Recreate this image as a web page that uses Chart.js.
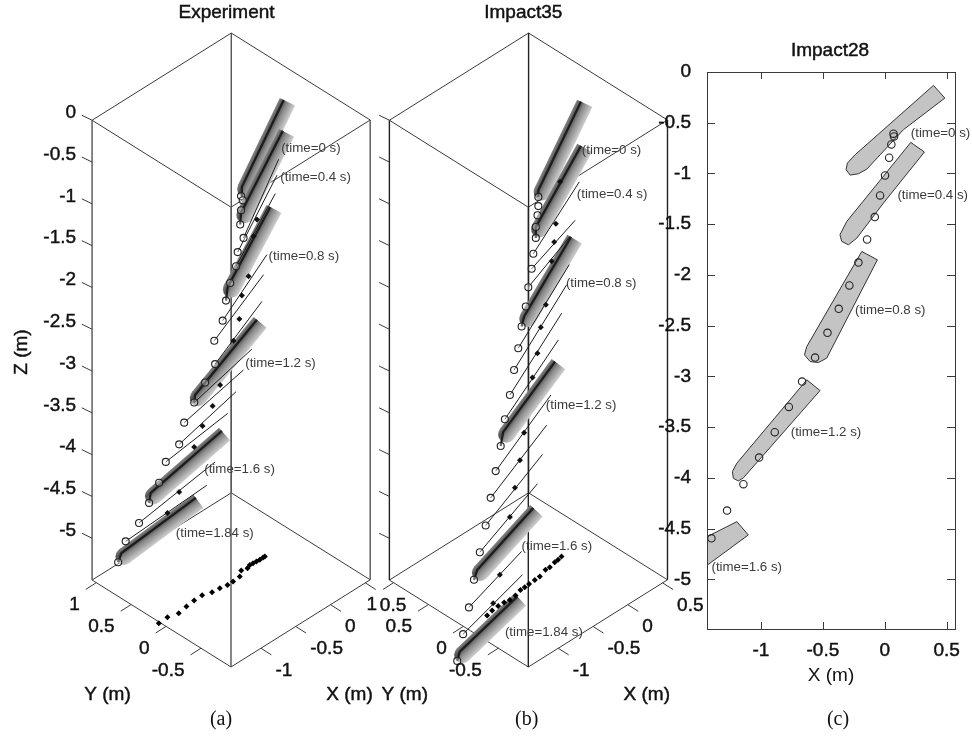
<!DOCTYPE html>
<html><head><meta charset="utf-8">
<script src="https://cdn.jsdelivr.net/npm/chart.js@4/dist/chart.umd.min.js"></script>
<style>html,body{margin:0;padding:0;background:#fff}
#w{position:relative;width:972px;height:737px;overflow:hidden}
canvas{position:absolute;left:0;top:0}</style></head>
<body><div id="w"><canvas id="ca" width="972" height="737"></canvas><canvas id="cb" width="972" height="737"></canvas><canvas id="cc" width="972" height="737"></canvas></div>
<script>
// ---------- axis limits and ticks ----------
const xLim3d=[-1.43,0.57], yLim3d=[-0.93,1.06], zLim3d=[-5.5,0];
const xTicks3d=[-1,-0.5,0,0.5], yTicks3d=[-0.5,0,0.5,1];
const zTicks=[0,-0.5,-1,-1.5,-2,-2.5,-3,-3.5,-4,-4.5,-5];
const xTicksC=[-1,-0.5,0,0.5];
const timeNames=['(time=0 s)','(time=0.4 s)','(time=0.8 s)','(time=1.2 s)','(time=1.6 s)','(time=1.84 s)'];

// ---------- (a) Experiment: values on the projection plane (m) ----------
const aBandLowU=[0.13,0.12,-0.04,-0.43,-0.96,-1.31];
const aBandLowV=[-0.80,-1.11,-2.00,-3.29,-4.46,-5.18];
const aBandTopU=[0.63,0.62,0.47,0.31,-0.11,-0.42];
const aBandTopV=[0.24,-0.13,-1.04,-2.39,-3.72,-4.52];
const aBandEnd=[0,3,8,13,18,21];
const aCircleU=[0.12,0.14,0.12,0.11,0.15,0.08,0.06,-0.01,-0.06,-0.10,-0.20,-0.19,-0.31,-0.44,-0.56,-0.62,-0.78,-0.86,-0.98,-1.10,-1.26,-1.35];
const aCircleV=[-0.91,-0.96,-1.08,-1.25,-1.41,-1.58,-1.75,-1.95,-2.16,-2.40,-2.64,-2.92,-3.14,-3.38,-3.62,-3.88,-4.09,-4.34,-4.58,-4.82,-5.04,-5.29];
const aRodBase=[4,5,6,9,10,11,13,14,15,16,19,20];
const aRodTipU=[0.57,0.55,0.53,0.43,0.39,0.37,0.25,0.15,0.06,-0.04,-0.19,-0.29];
const aRodTipV=[-0.47,-0.66,-0.88,-1.61,-1.85,-2.17,-2.74,-2.99,-3.25,-3.51,-4.09,-4.37];
const aDotU=[0.31,0.27,0.21,0.13,0.10,0.03,-0.13,-0.22,-0.34,-0.44,-0.62,-0.76];
const aDotV=[-1.19,-1.39,-1.87,-2.10,-2.38,-2.64,-3.17,-3.42,-3.66,-3.91,-4.45,-4.70];
const aTrackX=[-1.446,-1.315,-1.188,-1.057,-0.933,-0.814,-0.708,-0.606,-0.513,-0.435,-0.33,-0.25,-0.178,-0.124,-0.081,-0.038,0.006,0.056,0.08];
const aTrackY=[0.088,0.095,0.06,0.08,0.094,0.098,0.061,0.052,0.034,0.032,0.041,0.10,0.082,0.103,0.099,0.093,0.089,0.092,0.09];
const aTimeU=[0.60,0.59,0.45,0.17,-0.32,-0.66];
const aTimeV=[-0.34,-0.69,-1.63,-2.91,-4.18,-4.94];

// ---------- (b) Impact35 ----------
const bBandLowU=[0.12,0.09,-0.05,-0.30,-0.61,-0.82];
const bBandLowV=[-0.84,-1.28,-2.35,-3.73,-5.38,-6.36];
const bBandTopU=[0.63,0.63,0.51,0.32,0.06,-0.13];
const bBandTopV=[0.22,-0.31,-1.40,-2.89,-4.64,-5.70];
const bBandEnd=[0,4,9,14,19,22];
const bCircleU=[0.12,0.12,0.11,0.09,0.09,0.06,0.04,0,-0.03,-0.08,-0.12,-0.17,-0.22,-0.28,-0.33,-0.39,-0.45,-0.51,-0.58,-0.65,-0.71,-0.78,-0.85];
const bCircleV=[-0.92,-1.03,-1.14,-1.28,-1.41,-1.60,-1.78,-2.00,-2.23,-2.47,-2.73,-2.99,-3.29,-3.58,-3.90,-4.20,-4.52,-4.85,-5.17,-5.50,-5.83,-6.15,-6.47];
const bRodBase=[5,6,7,10,11,12,13,15,16,17,18,20,21];
const bRodTipU=[0.61,0.56,0.50,0.49,0.46,0.40,0.36,0.27,0.22,0.17,0.11,-0.08,-0.07];
const bRodTipV=[-0.74,-1.20,-1.39,-1.73,-1.97,-2.31,-2.63,-3.29,-3.65,-4.00,-4.35,-5.16,-5.44];
const bDotU=[0.38,0.33,0.31,0.28,0.21,0.15,0.11,0.05,-0.05,-0.10,-0.16,-0.22,-0.34,-0.42];
const bDotV=[-0.74,-1.24,-1.46,-1.69,-2.21,-2.48,-2.79,-3.08,-3.74,-4.07,-4.40,-4.75,-5.44,-5.78];
const bTrackX=[-1.136,-1.043,-0.946,-0.865,-0.793,-0.703,-0.602,-0.54,-0.471,-0.384,-0.31,-0.192,-0.13,-0.038,0.013,0.075];
const bTrackY=[-0.047,-0.026,-0.015,-0.02,-0.03,-0.022,0.008,0.008,0.015,0.02,0.022,0.058,0.058,0.079,0.082,0.095];
const bTimeU=[0.64,0.58,0.45,0.21,-0.08,-0.28];
const bTimeV=[-0.36,-0.89,-1.95,-3.41,-5.10,-6.13];

// ---------- (c) Impact28: X (m), Z (m) ----------
const cCircleX=[0.07,0.075,0.053,0.035,0.002,-0.038,-0.081,-0.143,-0.213,-0.286,-0.372,-0.463,-0.563,-0.668,-0.775,-0.889,-1.015,-1.142,-1.274,-1.4];
const cCircleZ=[-0.608,-0.635,-0.714,-0.845,-1.02,-1.217,-1.43,-1.651,-1.878,-2.104,-2.334,-2.571,-2.815,-3.051,-3.301,-3.55,-3.8,-4.063,-4.323,-4.596];
const cBody0X=[0.393,0.485,0.15,-0.145,-0.213,-0.28,-0.313,-0.302,-0.24,0.393];
const cBody0Z=[-0.132,-0.257,-0.569,-0.957,-1.003,-1.016,-0.963,-0.898,-0.816,-0.132];
const cBody1X=[0.21,0.32,-0.011,-0.226,-0.294,-0.348,-0.362,-0.307,0.21];
const cBody1Z=[-0.694,-0.789,-1.292,-1.637,-1.703,-1.67,-1.604,-1.473,-0.694];
const cBody2X=[-0.186,-0.06,-0.469,-0.536,-0.603,-0.649,-0.63,-0.186];
const cBody2Z=[-1.769,-1.851,-2.82,-2.864,-2.854,-2.788,-2.706,-1.769];
const cBody3X=[-0.63,-0.523,-1.142,-1.183,-1.223,-1.231,-1.195,-0.63];
const cBody3Z=[-3.034,-3.14,-4.0,-4.031,-4.004,-3.939,-3.856,-3.034];
const cBody4X=[-1.195,-1.102,-1.5,-1.5,-1.195];
const cBody4Z=[-4.432,-4.563,-4.92,-4.62,-4.432];
const cTimeX=[0.21,0.102,-0.241,-0.76,-1.40];
const cTimeZ=[-0.60,-1.22,-2.345,-3.553,-4.88];

// ---------- helpers ----------
const SANS='"Liberation Sans", Arial, sans-serif', SERIF='"Liberation Serif", "Times New Roman", serif';
const PX=83.6; // page pixels per plane unit
const GAP={x:NaN,y:NaN};
function proj(X,Y,Z){
  const a=X-xLim3d[0], b=Y-yLim3d[0];
  return {x:0.8325*a-0.835*b, y:Z-1.043+0.5215*a+0.5227*b};
}
const zip=(xs,ys)=>xs.map((x,i)=>({x,y:ys[i]}));
const line=(data,color,width,extra)=>Object.assign({type:'scatter',data,showLine:true,borderColor:color,borderWidth:width,pointRadius:0,tension:0,fill:false},extra||{});
const points=(data,style,r,fillC,borderC,bw)=>({type:'scatter',data,showLine:false,pointStyle:style,pointRadius:r,pointBackgroundColor:fillC,pointBorderColor:borderC,pointBorderWidth:bw});

function bandGradient(ctx,low,top){
  const ch=ctx.chart,S=ch.scales;
  if(!S.x||!ch.chartArea) return '#999';
  const ax=S.x.getPixelForValue(low.x),ay=S.y.getPixelForValue(low.y),bx=S.x.getPixelForValue(top.x),by=S.y.getPixelForValue(top.y);
  const len=Math.hypot(bx-ax,by-ay),px=-(by-ay)/len,py=(bx-ax)/len,mx=(ax+bx)/2,my=(ay+by)/2,h=8.5;
  const g=ch.ctx.createLinearGradient(mx-px*h,my-py*h,mx+px*h,my+py*h);
  g.addColorStop(0,'#858585');g.addColorStop(0.25,'#505050');g.addColorStop(0.5,'#8a8a8a');g.addColorStop(1,'#cfcfcf');
  return g;
}

function panelDatasets(p){
  const ds=[];
  // box
  const [x0,x1]=xLim3d,[y0,y1]=yLim3d,[z0,z1]=zLim3d;
  const E=[[x0,y1],[x0,y0],[x1,y0],[x1,y1]];
  const edges=[];
  for(const z of [z0,z1]){ for(let i=0;i<=4;i++){const c=E[i%4];edges.push(proj(c[0],c[1],z));} edges.push(GAP); }
  ds.push(line(edges,'#3a3a3a',1));
  const vert=[];
  for(const c of E){vert.push(proj(c[0],c[1],z0),proj(c[0],c[1],z1),GAP);}
  ds.push(line(vert,p.vertColor,1.4));
  // ticks
  const t=[];
  for(const z of zTicks){const q=proj(x0,y1,z);t.push(q,{x:q.x-0.123,y:q.y+0.06},GAP);}
  for(const v of yTicks3d){const q=proj(x0,v,z0);t.push(q,{x:q.x-0.125,y:q.y-0.08},GAP);}
  for(const v of xTicks3d){const q=proj(v,y0,z0);t.push(q,{x:q.x+0.125,y:q.y-0.08},GAP);}
  ds.push(line(t,'#3a3a3a',1));
  // shaded bodies
  const circ=zip(p.cu,p.cv);
  p.lowU.forEach((_,i)=>{
    const low={x:p.lowU[i],y:p.lowV[i]},top={x:p.topU[i],y:p.topV[i]};
    const lenPx=Math.hypot(top.x-low.x,top.y-low.y), ox=(top.y-low.y)/lenPx*0.05, oy=-(top.x-low.x)/lenPx*0.05;
    const sl={x:low.x+ox,y:low.y+oy},st={x:top.x+ox,y:top.y+oy};
    const col=c=>bandGradient(c,sl,st);
    ds.push(line([sl,st],col,17,{pointRadius:[8.5,0],pointBorderWidth:0,pointBackgroundColor:col,pointBorderColor:col,borderCapStyle:'butt'}));
  });
  // thin rods
  const rods=[];
  p.rodBase.forEach((b,i)=>{rods.push(circ[b],{x:p.tipU[i],y:p.tipV[i]},GAP);});
  ds.push(line(rods,'#1e1e1e',1));
  // dark centre lines
  p.lowU.forEach((_,i)=>{
    ds.push(line([circ[p.bandEnd[i]],{x:p.lowU[i],y:p.lowV[i]},{x:p.topU[i],y:p.topV[i]}],'#1c1c1c',2.2));
  });
  ds.push(points(circ,'circle',3.5,'rgba(255,255,255,0.35)','#222',1.1));
  ds.push(points(zip(p.du,p.dv),'rectRot',3,'#111','#111',0));
  ds.push(points(p.tx.map((x,i)=>{const q=proj(x,p.ty[i],z0);return q;}),'rectRot',3,'#000','#000',0));
  return ds.map((d,i,a)=>Object.assign(d,{order:a.length-i}));
}

const textPlugin={id:'txt',afterDraw(ch,args,o){
  const c=ch.ctx,S=ch.scales;c.save();
  for(const l of (ch.options.plugins.txt.items||[])){
    let x=l.px!==undefined?l.px:S[l.sx||'x'].getPixelForValue(l.x);
    let y=l.py!==undefined?l.py:S[l.sy||'y'].getPixelForValue(l.y);
    x+=l.dx||0;y+=l.dy||0;
    c.save();c.translate(x,y);if(l.rot)c.rotate(l.rot);
    c.font=l.font;c.fillStyle=l.color||'#111';c.textAlign=l.align||'center';c.textBaseline='middle';
    if(l.heavy){c.strokeStyle=l.color||'#111';c.lineWidth=0.45;c.strokeText(l.text,0,0);}
    c.fillText(l.text,0,0);c.restore();
  }
  c.restore();
}};
const TICKF='19px '+SANS,TIMEF='13.3px '+SANS,CAPF='20px '+SERIF,TITLEF='19px '+SANS;
const timeLabels=(u,v)=>u.map((x,i)=>({text:timeNames[i],x,y:v[i],font:TIMEF,color:'#3c3c3c',align:'left'}));

function panel(id,front,p,extra){
  const items=[...timeLabels(p.timeU,p.timeV),...extra];
  for(const v of yTicks3d){const q=proj(xLim3d[0],v,zLim3d[0]);items.push({text:String(v),x:q.x,y:q.y,dx:-16.5,dy:22.5,font:TICKF,align:'right',heavy:1});}
  for(const v of xTicks3d){const q=proj(v,yLim3d[0],zLim3d[0]);items.push({text:String(v),x:q.x,y:q.y,dx:14.5,dy:22.5,font:TICKF,align:'left',heavy:1});}
  const q1=proj(xLim3d[0],yLim3d[0],zLim3d[0]);
  items.push({text:'Y (m)',x:q1.x,y:q1.y,dx:-123.5,dy:28,font:TITLEF,heavy:1});
  items.push({text:'X (m)',x:q1.x,y:q1.y,dx:118.5,dy:28,font:TITLEF,heavy:1});
  return new Chart(document.getElementById(id),{type:'scatter',
    data:{datasets:panelDatasets(p)},
    plugins:[textPlugin],
    options:{responsive:false,animation:false,layout:{padding:0,autoPadding:false},
      scales:{x:{type:'linear',display:false,min:-front/PX,max:(972-front)/PX},
              y:{type:'linear',display:false,min:-(737-120)/PX,max:120/PX}},
      plugins:{legend:{display:false},tooltip:{enabled:false},txt:{items}}}});
}

panel('ca',231,{vertColor:'#555',lowU:aBandLowU,lowV:aBandLowV,topU:aBandTopU,topV:aBandTopV,bandEnd:aBandEnd,cu:aCircleU,cv:aCircleV,rodBase:aRodBase,tipU:aRodTipU,tipV:aRodTipV,du:aDotU,dv:aDotV,tx:aTrackX,ty:aTrackY,timeU:aTimeU,timeV:aTimeV},
 [{text:'Experiment',px:226.5,py:13,font:TITLEF,heavy:1},{text:'(a)',px:221,py:720,font:CAPF},
  {text:'Z (m)',px:22,py:352,font:TITLEF,rot:-Math.PI/2,heavy:1},
  ...zTicks.map(z=>{const q=proj(xLim3d[0],yLim3d[1],z);return {text:String(z),x:q.x,y:q.y,dx:-16,dy:-7.5,font:TICKF,align:'right',heavy:1};})]);

panel('cb',528.3,{vertColor:'#222',lowU:bBandLowU,lowV:bBandLowV,topU:bBandTopU,topV:bBandTopV,bandEnd:bBandEnd,cu:bCircleU,cv:bCircleV,rodBase:bRodBase,tipU:bRodTipU,tipV:bRodTipV,du:bDotU,dv:bDotV,tx:bTrackX,ty:bTrackY,timeU:bTimeU,timeV:bTimeV},
 [{text:'Impact35',px:523.3,py:13,font:TITLEF,heavy:1},{text:'(b)',px:526.7,py:720,font:CAPF}]);

// panel (c)
const framePlugin={id:'frame',afterDatasetsDraw(ch){
  const c=ch.ctx,a=ch.chartArea,S=ch.scales;c.save();c.strokeStyle='#3a3a3a';c.lineWidth=1;
  c.strokeRect(a.left+.5,a.top+.5,a.right-a.left,a.bottom-a.top);
  c.beginPath();
  for(const v of xTicksC){const x=Math.round(S.x.getPixelForValue(v))+.5;c.moveTo(x,a.top);c.lineTo(x,a.top+7);c.moveTo(x,a.bottom);c.lineTo(x,a.bottom-7);}
  for(const v of zTicks){const y=Math.round(S.y.getPixelForValue(v))+.5;c.moveTo(a.left,y);c.lineTo(a.left+8,y);c.moveTo(a.right,y);c.lineTo(a.right-8,y);}
  c.stroke();c.restore();
}};
const body=(xs,zs)=>line(zip(xs,zs),'#333',1,{fill:'shape',backgroundColor:'#c4c4c4'});
const cSets=[body(cBody0X,cBody0Z),body(cBody1X,cBody1Z),body(cBody2X,cBody2Z),body(cBody3X,cBody3Z),body(cBody4X,cBody4Z),
  points(zip(cCircleX,cCircleZ),'circle',3.7,'rgba(255,255,255,0)','#222',1.1)].map((d,i,a)=>Object.assign(d,{order:a.length-i}));
const axisFont={family:'"Liberation Sans"',size:19};
new Chart(document.getElementById('cc'),{type:'scatter',data:{datasets:cSets},plugins:[framePlugin,textPlugin],
  options:{responsive:false,animation:false,layout:{padding:{left:652,right:17,top:72,bottom:0},autoPadding:false},
    scales:{
      x:{type:'linear',min:-1.436,max:0.567,afterFit:s=>{s.height=108;},afterBuildTicks:s=>{s.ticks=xTicksC.map(value=>({value}));},
         grid:{display:false},border:{display:false},
         ticks:{color:'#111',font:axisFont,padding:2,maxRotation:0,textStrokeColor:'#111',textStrokeWidth:0.45,callback:v=>String(v)},
         title:{display:true,text:'X (m)',color:'#111',font:axisFont,padding:{top:0,bottom:50}}},
      y:{type:'linear',min:-5.49,max:0,afterFit:s=>{s.width=55;},afterBuildTicks:s=>{s.ticks=zTicks.map(value=>({value}));},
         grid:{display:false},border:{display:false},
         ticks:{color:'#111',font:axisFont,padding:8,textStrokeColor:'#111',textStrokeWidth:0.45,callback:v=>String(v)}}},
    plugins:{legend:{display:false},tooltip:{enabled:false},
      txt:{items:[...cTimeX.map((x,i)=>({text:timeNames[i],x,y:cTimeZ[i],font:TIMEF,color:'#3c3c3c',align:'left'})),
        {text:'Impact28',px:830,py:50.7,font:TITLEF,heavy:1},{text:'(c)',px:838,py:720,font:CAPF}]}}}});
</script></body></html>
